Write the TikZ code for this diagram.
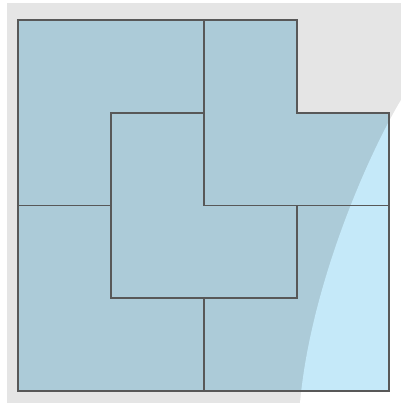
\documentclass[tikz,border=0pt]{standalone}
\usetikzlibrary{calc}
\definecolor{bgcolor}{RGB}{229, 229, 229}
\definecolor{tilecolor}{RGB}{172, 203, 216}
\definecolor{glarecolor}{RGB}{197, 233, 249}
\definecolor{edgecolor}{RGB}{88, 88, 88}

\begin{document}
\begin{tikzpicture}[
    x=1pt, y=-1pt,
    grid/.style={shift={(18, 20.3)}, x=92.85pt, y=-92.6pt},
    tile/.style={draw=edgecolor, line width=1.9pt, line join=miter}
]
\useasboundingbox (0, 0) rectangle (401, 403);

% Background and glare
\fill[bgcolor] (7, 3) rectangle (401, 403);
\fill[white] (401, 100) .. controls (365, 160) and (310, 290) .. (300, 403)
    -- (401, 403) -- cycle;

% Whole region
\begin{scope}[grid]
\fill[tilecolor] (0, 0) -- (3, 0) -- (3, 1) -- (4, 1) -- (4, 4) -- (0, 4) -- cycle;
\end{scope}

% Region under the glare
\begin{scope}
\clip (401, 100) .. controls (365, 160) and (310, 290) .. (300, 403)
    -- (401, 403) -- cycle;
\begin{scope}[grid]
\fill[glarecolor] (0, 0) -- (3, 0) -- (3, 1) -- (4, 1) -- (4, 4) -- (0, 4) -- cycle;
\end{scope}
\end{scope}

% Five L-shaped tiles
\begin{scope}[grid]
\draw[tile] (0, 0) -- (2, 0) -- (2, 1) -- (1, 1) -- (1, 2) -- (0, 2) -- cycle;
\draw[tile] (2, 0) -- (3, 0) -- (3, 1) -- (4, 1) -- (4, 2) -- (2, 2) -- cycle;
\draw[tile] (1, 1) -- (2, 1) -- (2, 2) -- (3, 2) -- (3, 3) -- (1, 3) -- cycle;
\draw[tile] (0, 2) -- (1, 2) -- (1, 3) -- (2, 3) -- (2, 4) -- (0, 4) -- cycle;
\draw[tile] (2, 3) -- (3, 3) -- (3, 2) -- (4, 2) -- (4, 4) -- (2, 4) -- cycle;
\end{scope}

\end{tikzpicture}
\end{document}
